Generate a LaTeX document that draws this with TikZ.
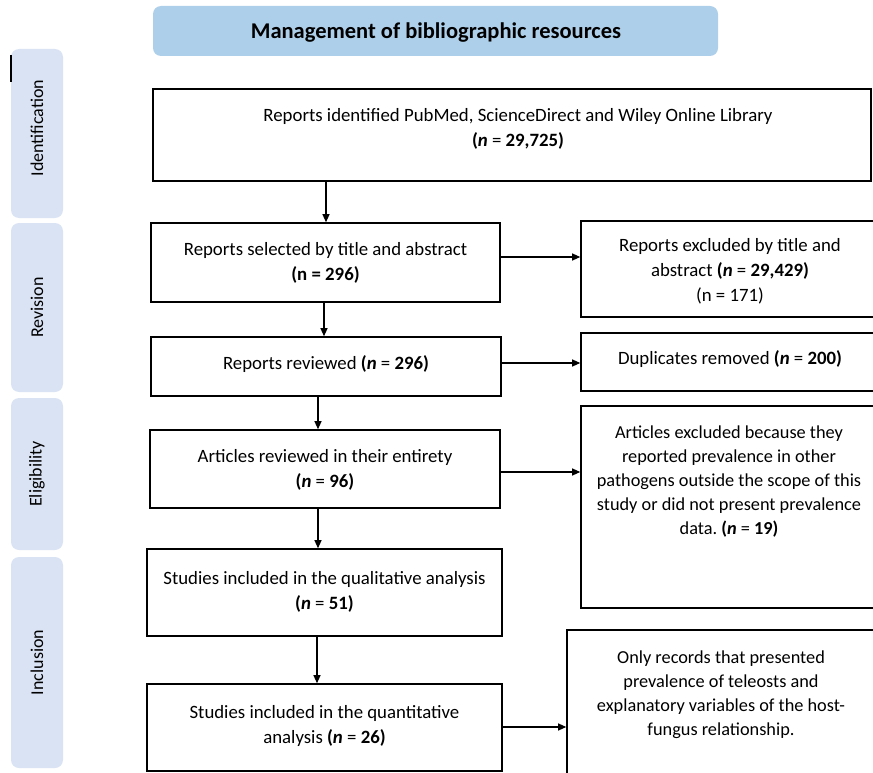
\documentclass[tikz,border=0pt]{standalone}
\usepackage{fontspec}
\setmainfont{Carlito}
\usetikzlibrary{arrows.meta}
\definecolor{headblue}{RGB}{174,207,234}
\definecolor{sideblue}{RGB}{218,227,243}
\frenchspacing
\tikzset{
  box/.style={draw=black, line width=1.6pt, inner sep=0pt, fill=white},
  txt/.style={align=center, inner sep=0pt, font=\fontsize{18.8}{25}\selectfont},
  txtc/.style={align=center, inner sep=0pt, font=\fontsize{18.3}{24}\selectfont},
  side/.style={fill=sideblue, rounded corners=8pt, inner sep=0pt, minimum width=52pt},
  sidetxt/.style={rotate=90, inner sep=0pt, font=\fontsize{18}{21}\selectfont},
  arr/.style={line width=1.2pt, -{Triangle[length=8pt,width=7pt]}},
}
\newcommand{\nb}[1]{\textbf{(\textit{n}} = \textbf{#1)}}
\begin{document}
\begin{tikzpicture}[x=1pt,y=-1pt]
\useasboundingbox (0,0) rectangle (873,773);
% header
\node[fill=headblue, rounded corners=8pt, minimum width=565pt, minimum height=50pt, inner sep=0pt,
      font=\fontsize{22.5}{26}\selectfont\bfseries] (head) at (435.5,31) {};
\node[inner sep=0pt, font=\fontsize{22.5}{26}\selectfont\bfseries] (headt) at (436,33) {Management of bibliographic resources};
% side labels
\node[side, minimum height=169pt] (sid) at (37,133.5) {};
\node[sidetxt] (sidt) at (37,128) {Identification};
\node[side, minimum height=169pt] (srev) at (37,307.5) {};
\node[sidetxt] (srevt) at (37,307.5) {Revision};
\node[side, minimum height=152pt] (sel) at (37,474) {};
\node[sidetxt] (selt) at (37,474) {Eligibility};
\node[side, minimum height=211pt] (sinc) at (37,662.5) {};
\node[sidetxt] (sinct) at (37,662.5) {Inclusion};
\coordinate (s1) at (11,55);
\coordinate (s2) at (11,82);
\draw[line width=1.5pt] (s1) -- (s2);
% main column
\node[box, minimum width=718pt, minimum height=92pt] (b1) at (512,135) {};
\node[txt] (t1) at (518,129) {Reports identified PubMed, ScienceDirect and Wiley Online Library\\ \nb{29,725}};
\node[box, minimum width=349pt, minimum height=79pt] (b2) at (325.5,262.5) {};
\node[txt] (t2) at (325.5,263) {Reports selected by title and abstract\\ \textbf{(n = 296)}};
\node[box, minimum width=350pt, minimum height=59pt] (b3) at (326,366.5) {};
\node[txt] (t3) at (326,364) {Reports reviewed \nb{296}};
\node[box, minimum width=350pt, minimum height=78pt] (b4) at (325,469) {};
\node[txt] (t4) at (325,470) {Articles reviewed in their entirety\\ \nb{96}};
\node[box, minimum width=355pt, minimum height=87pt] (b5) at (324.5,592.5) {};
\node[txt] (t5) at (324.5,592) {Studies included in the qualitative analysis\\ \nb{51}};
\node[box, minimum width=355pt, minimum height=87pt] (b6) at (324.5,727.5) {};
\node[txt] (t6) at (324.5,726) {Studies included in the quantitative\\ analysis \nb{26}};
% right column
\node[box, minimum width=295pt, minimum height=96pt] (rA) at (728.5,269) {};
\node[txt] (tA) at (730,271) {Reports excluded by title and\\ abstract \nb{29,429}\\ (n = 171)};
\node[box, minimum width=295pt, minimum height=58pt] (rB) at (728.5,362) {};
\node[txt] (tB) at (730,359) {Duplicates removed \nb{200}};
\node[box, minimum width=295pt, minimum height=202pt] (rC) at (728.5,507) {};
\node[txtc] (tC) at (729,482) {Articles excluded because they\\ reported prevalence in other\\ pathogens outside the scope of this\\ study or did not present prevalence\\ data. \nb{19}};
\node[box, minimum width=309pt, minimum height=146pt] (rD) at (721.5,703) {};
\node[txtc] (tD) at (721,695) {Only records that presented\\ prevalence of teleosts and\\ explanatory variables of the host-\\ fungus relationship.};
% arrows down
\draw[arr] (b1.south -| 326,0) -- (b2.north -| 326,0);
\draw[arr] (b2.south -| 324,0) -- (b3.north -| 324,0);
\draw[arr] (b3.south -| 318,0) -- (b4.north -| 318,0);
\draw[arr] (b4.south -| 318,0) -- (b5.north -| 318,0);
\draw[arr] (b5.south -| 317,0) -- (b6.north -| 317,0);
% arrows right
\draw[arr] (b2.east |- 0,257) -- (rA.west |- 0,257);
\draw[arr] (b3.east |- 0,363) -- (rB.west |- 0,363);
\draw[arr] (b4.east |- 0,472) -- (rC.west |- 0,472);
\draw[arr] (b6.east |- 0,727) -- (rD.west |- 0,727);
\end{tikzpicture}
\end{document}
